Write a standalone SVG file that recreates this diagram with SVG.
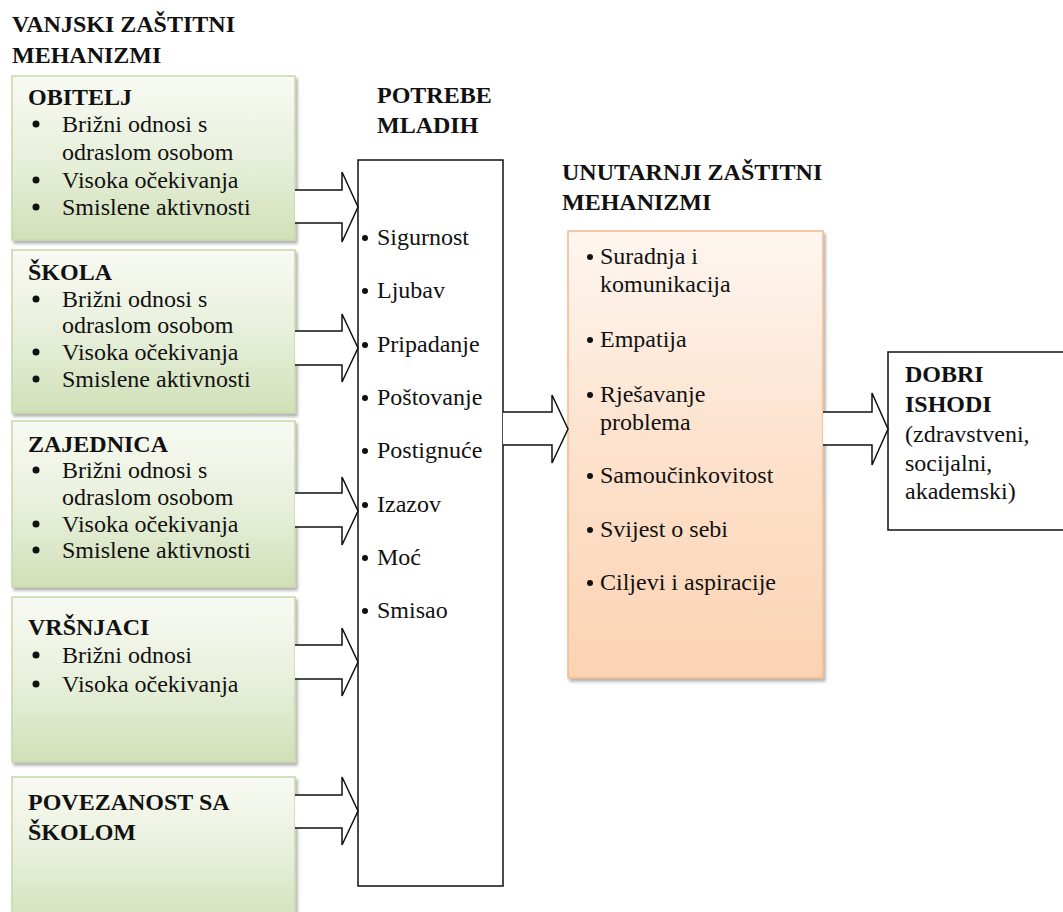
<svg xmlns="http://www.w3.org/2000/svg" width="1063" height="912" viewBox="0 0 1063 912">
<defs>
<linearGradient id="gGreen" x1="0" y1="0" x2="0" y2="1">
<stop offset="0" stop-color="#f8faf3"/>
<stop offset="0.5" stop-color="#e8f0dc"/>
<stop offset="1" stop-color="#d1e0b8"/>
</linearGradient>
<linearGradient id="gOrange" x1="0" y1="0" x2="0" y2="1">
<stop offset="0" stop-color="#fef6f0"/>
<stop offset="0.45" stop-color="#fde3cf"/>
<stop offset="1" stop-color="#fbd3b2"/>
</linearGradient>
<filter id="sh" x="-5%" y="-5%" width="115%" height="115%">
<feDropShadow dx="2" dy="3" stdDeviation="1.5" flood-color="#000" flood-opacity="0.3"/>
</filter>
</defs>
<style>
text{font-family:'Liberation Serif','Times New Roman',serif;font-size:24px;fill:#111}
.b{font-weight:bold}
.green{fill:url(#gGreen);stroke:#c6d8a8;stroke-width:1.5}
.orange{fill:url(#gOrange);stroke:#f4b98c;stroke-width:1.5}
.plain{fill:#fff;stroke:#111;stroke-width:1.5}
.arrow{fill:#fff;stroke:#111;stroke-width:1.5;stroke-linejoin:miter}
.dot{fill:#111}
</style>
<rect width="1063" height="912" fill="#fff"/>
<g id="title-vanjski">
<text class="b" x="12" y="32">VANJSKI ZAŠTITNI</text>
<text class="b" x="12" y="63">MEHANIZMI</text>
</g>

<g id="node-obitelj">
<rect class="green" x="12" y="76" width="283" height="164" filter="url(#sh)"/>
<text class="b" x="28" y="105">OBITELJ</text>
<circle class="dot" cx="36" cy="124" r="3.5"/><text x="62" y="132">Brižni odnosi s</text>
<text x="62" y="160">odraslom osobom</text>
<circle class="dot" cx="36" cy="180" r="3.5"/><text x="62" y="188">Visoka očekivanja</text>
<circle class="dot" cx="36" cy="207" r="3.5"/><text x="62" y="215">Smislene aktivnosti</text>
</g>

<g id="node-skola">
<rect class="green" x="12" y="250" width="283" height="163" filter="url(#sh)"/>
<text class="b" x="28" y="280">ŠKOLA</text>
<circle class="dot" cx="36" cy="299" r="3.5"/><text x="62" y="307">Brižni odnosi s</text>
<text x="62" y="333">odraslom osobom</text>
<circle class="dot" cx="36" cy="352" r="3.5"/><text x="62" y="360">Visoka očekivanja</text>
<circle class="dot" cx="36" cy="379" r="3.5"/><text x="62" y="387">Smislene aktivnosti</text>
</g>

<g id="node-zajednica">
<rect class="green" x="12" y="421" width="283" height="166" filter="url(#sh)"/>
<text class="b" x="28" y="452">ZAJEDNICA</text>
<circle class="dot" cx="36" cy="470" r="3.5"/><text x="62" y="478">Brižni odnosi s</text>
<text x="62" y="505">odraslom osobom</text>
<circle class="dot" cx="36" cy="524" r="3.5"/><text x="62" y="532">Visoka očekivanja</text>
<circle class="dot" cx="36" cy="550" r="3.5"/><text x="62" y="558">Smislene aktivnosti</text>
</g>

<g id="node-vrsnjaci">
<rect class="green" x="12" y="597" width="283" height="165" filter="url(#sh)"/>
<text class="b" x="28" y="635">VRŠNJACI</text>
<circle class="dot" cx="36" cy="655" r="3.5"/><text x="62" y="663">Brižni odnosi</text>
<circle class="dot" cx="36" cy="684" r="3.5"/><text x="62" y="692">Visoka očekivanja</text>
</g>

<g id="node-povezanost">
<rect class="green" x="12" y="777" width="283" height="150" filter="url(#sh)"/>
<text class="b" x="28" y="810">POVEZANOST SA</text>
<text class="b" x="28" y="840">ŠKOLOM</text>
</g>

<g id="node-potrebe">
<text class="b" x="377" y="103">POTREBE</text>
<text class="b" x="377" y="133">MLADIH</text>
<rect class="plain" x="358" y="160" width="145" height="726"/>
<circle class="dot" cx="365" cy="238" r="3"/><text x="377" y="245">Sigurnost</text>
<circle class="dot" cx="365" cy="291" r="3"/><text x="377" y="298">Ljubav</text>
<circle class="dot" cx="365" cy="345" r="3"/><text x="377" y="352">Pripadanje</text>
<circle class="dot" cx="365" cy="398" r="3"/><text x="377" y="405">Poštovanje</text>
<circle class="dot" cx="365" cy="451" r="3"/><text x="377" y="458">Postignuće</text>
<circle class="dot" cx="365" cy="505" r="3"/><text x="377" y="512">Izazov</text>
<circle class="dot" cx="365" cy="558" r="3"/><text x="377" y="565">Moć</text>
<circle class="dot" cx="365" cy="611" r="3"/><text x="377" y="618">Smisao</text>
</g>

<g id="node-unutarnji">
<text class="b" x="562" y="180">UNUTARNJI ZAŠTITNI</text>
<text class="b" x="562" y="210">MEHANIZMI</text>
<rect class="orange" x="568" y="231" width="255" height="447" filter="url(#sh)"/>
<circle class="dot" cx="590" cy="257" r="3"/><text x="600" y="264">Suradnja i</text>
<text x="600" y="292">komunikacija</text>
<circle class="dot" cx="590" cy="340" r="3"/><text x="600" y="347">Empatija</text>
<circle class="dot" cx="590" cy="395" r="3"/><text x="600" y="402">Rješavanje</text>
<text x="600" y="430">problema</text>
<circle class="dot" cx="590" cy="476" r="3"/><text x="600" y="483">Samoučinkovitost</text>
<circle class="dot" cx="590" cy="530" r="3"/><text x="600" y="537">Svijest o sebi</text>
<circle class="dot" cx="590" cy="583" r="3"/><text x="600" y="590">Ciljevi i aspiracije</text>
</g>

<g id="node-dobri">
<rect class="plain" x="888" y="352" width="190" height="178"/>
<text class="b" x="905" y="382">DOBRI</text>
<text class="b" x="905" y="412">ISHODI</text>
<text x="905" y="442">(zdravstveni,</text>
<text x="905" y="471">socijalni,</text>
<text x="905" y="499">akademski)</text>
</g>
<g id="connectors">
<path class="arrow" d="M295,190 H342 V172 L358,207 L342,242 V223 H295"/>
<path class="arrow" d="M295,331 H342 V314 L358,348 L342,382 V365 H295"/>
<path class="arrow" d="M295,493 H342 V477 L358,511 L342,545 V527 H295"/>
<path class="arrow" d="M295,645 H342 V628 L358,662 L342,696 V679 H295"/>
<path class="arrow" d="M295,795 H342 V777 L358,811 L342,845 V828 H295"/>
<path class="arrow" d="M503,412 H552 V395 L568,429 L552,463 V445 H503"/>
<path class="arrow" d="M823,412 H872 V393 L888,429 L872,465 V445 H823"/>
</g>
</svg>
